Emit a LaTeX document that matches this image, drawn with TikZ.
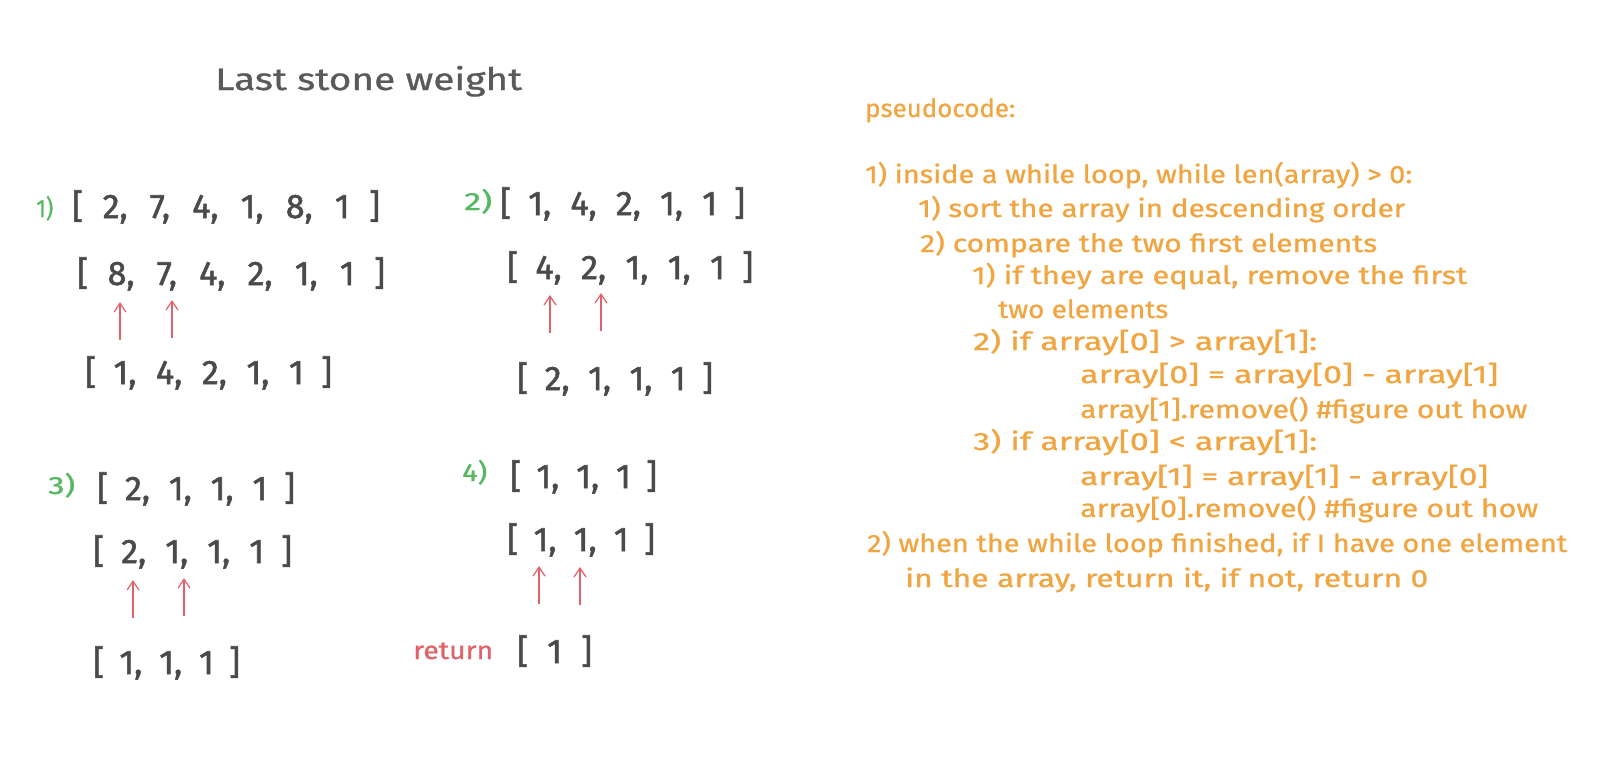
\documentclass[tikz,border=0pt]{standalone}
\usepackage{fontspec}
\setmainfont{Fira Sans}
\newfontfamily\arrfont{Fira Sans}[FakeBold=1.6]
\newfontfamily\codefont{Fira Sans}[FakeBold=0.8]
\usepackage{graphicx}
\usetikzlibrary{arrows.meta}
\definecolor{ink}{HTML}{4A4A4A}
\definecolor{titleink}{HTML}{5A5A5A}
\definecolor{grn}{HTML}{55B860}
\definecolor{rd}{HTML}{E2626A}
\definecolor{org}{HTML}{F0A541}
\newcommand{\fitw}[2]{\resizebox{#1}{\height}{#2}}
\newcommand{\spread}[2]{\makebox[#1][s]{#2}}
\tikzset{
  arrtxt/.style={anchor=base west, inner sep=0pt, text=ink, font=\arrfont\fontsize{34}{40}\selectfont},
  titletxt/.style={anchor=base west, inner sep=0pt, text=titleink, font=\codefont\fontsize{31}{36}\selectfont},
  steplab/.style={anchor=base west, inner sep=0pt, text=grn, font=\codefont\fontsize{25}{28}\selectfont},
  rettxt/.style={anchor=base west, inner sep=0pt, text=rd, font=\codefont\fontsize{25}{28}\selectfont},
  code/.style={anchor=base west, inner sep=0pt, text=org, font=\codefont\fontsize{25}{28}\selectfont},
  ptr/.style={draw=rd, line width=1.2pt, -{Straight Barb[length=9pt,width=12pt]}},
}
\begin{document}
\begin{tikzpicture}[x=1pt,y=-1pt]
\useasboundingbox (0,0) rectangle (1600,769);
\fill[white] (0,0) rectangle (1600,769);

% title
\node[titletxt] (title) at (215,90) {\fitw{307pt}{Last stone weight}};

% step 1
\node[steplab] (l1) at (36,217) {\fitw{17pt}{1)}};
\node[arrtxt] (r1a) at (72,218) {\spread{308pt}{[ 2, 7, 4, 1, 8, 1 ]}};
\node[arrtxt] (r1b) at (77,285) {\spread{308pt}{[ 8, 7, 4, 2, 1, 1 ]}};
\node[arrtxt] (r1c) at (85,384) {\spread{247pt}{[ 1, 4, 2, 1, 1 ]}};
\coordinate (p1a) at (120,340); \coordinate (q1a) at (120,302);
\coordinate (p1b) at (172,338); \coordinate (q1b) at (172,300);
\draw[ptr] (p1a) -- (q1a);
\draw[ptr] (p1b) -- (q1b);

% step 2
\node[steplab] (l2) at (464,210) {\fitw{28pt}{2)}};
\node[arrtxt] (r2a) at (500,215) {\spread{245pt}{[ 1, 4, 2, 1, 1 ]}};
\node[arrtxt] (r2b) at (507,279) {\spread{246pt}{[ 4, 2, 1, 1, 1 ]}};
\node[arrtxt] (r2c) at (517,390) {\spread{196pt}{[ 2, 1, 1, 1 ]}};
\coordinate (p2a) at (550,333); \coordinate (q2a) at (550,295);
\coordinate (p2b) at (601,331); \coordinate (q2b) at (601,293);
\draw[ptr] (p2a) -- (q2a);
\draw[ptr] (p2b) -- (q2b);

% step 3
\node[steplab] (l3) at (48,494) {\fitw{27pt}{3)}};
\node[arrtxt] (r3a) at (97,500) {\spread{198pt}{[ 2, 1, 1, 1 ]}};
\node[arrtxt] (r3b) at (93,563) {\spread{199pt}{[ 2, 1, 1, 1 ]}};
\node[arrtxt] (r3c) at (93,674) {\spread{147pt}{[ 1, 1, 1 ]}};
\coordinate (p3a) at (133,618); \coordinate (q3a) at (133,580);
\coordinate (p3b) at (184,616); \coordinate (q3b) at (184,578);
\draw[ptr] (p3a) -- (q3a);
\draw[ptr] (p3b) -- (q3b);

% step 4
\node[steplab] (l4) at (462,481) {\fitw{25pt}{4)}};
\node[arrtxt] (r4a) at (510,488) {\spread{147pt}{[ 1, 1, 1 ]}};
\node[arrtxt] (r4b) at (507,551) {\spread{148pt}{[ 1, 1, 1 ]}};
\node[rettxt] (ret) at (413,659) {\fitw{80pt}{return}};
\node[arrtxt] (r4c) at (517,663) {\spread{75pt}{[ 1 ]}};
\coordinate (p4a) at (539,604); \coordinate (q4a) at (539,566);
\coordinate (p4b) at (580,605); \coordinate (q4b) at (580,567);
\draw[ptr] (p4a) -- (q4a);
\draw[ptr] (p4b) -- (q4b);

% pseudocode
\node[code] (c0) at (865,117) {\fitw{150pt}{pseudocode:}};
\node[code] (c1) at (865,183) {\fitw{547pt}{1) inside a while loop, while len(array) > 0:}};
\node[code] (c2) at (918,217) {\fitw{487pt}{1) sort the array in descending order}};
\node[code] (c3) at (920,252) {\fitw{457pt}{2) compare the two first elements}};
\node[code] (c4) at (972,284) {\fitw{495pt}{1) if they are equal, remove the first}};
\node[code] (c5) at (998,318) {\fitw{170pt}{two elements}};
\node[code] (c6) at (973,350) {\fitw{344pt}{2) if array[0] > array[1]:}};
\node[code] (c7) at (1080,383) {\fitw{418pt}{array[0] = array[0] - array[1]}};
\node[code] (c8) at (1080,418) {\fitw{447pt}{array[1].remove() \#figure out how}};
\node[code] (c9) at (973,450) {\fitw{344pt}{3) if array[0] < array[1]:}};
\node[code] (c10) at (1080,485) {\fitw{408pt}{array[1] = array[1] - array[0]}};
\node[code] (c11) at (1080,517) {\fitw{458pt}{array[0].remove() \#figure out how}};
\node[code] (c12) at (867,552) {\fitw{700pt}{2) when the while loop finished, if I have one element}};
\node[code] (c13) at (905,587) {\fitw{523pt}{in the array, return it, if not, return 0}};
\end{tikzpicture}
\end{document}
